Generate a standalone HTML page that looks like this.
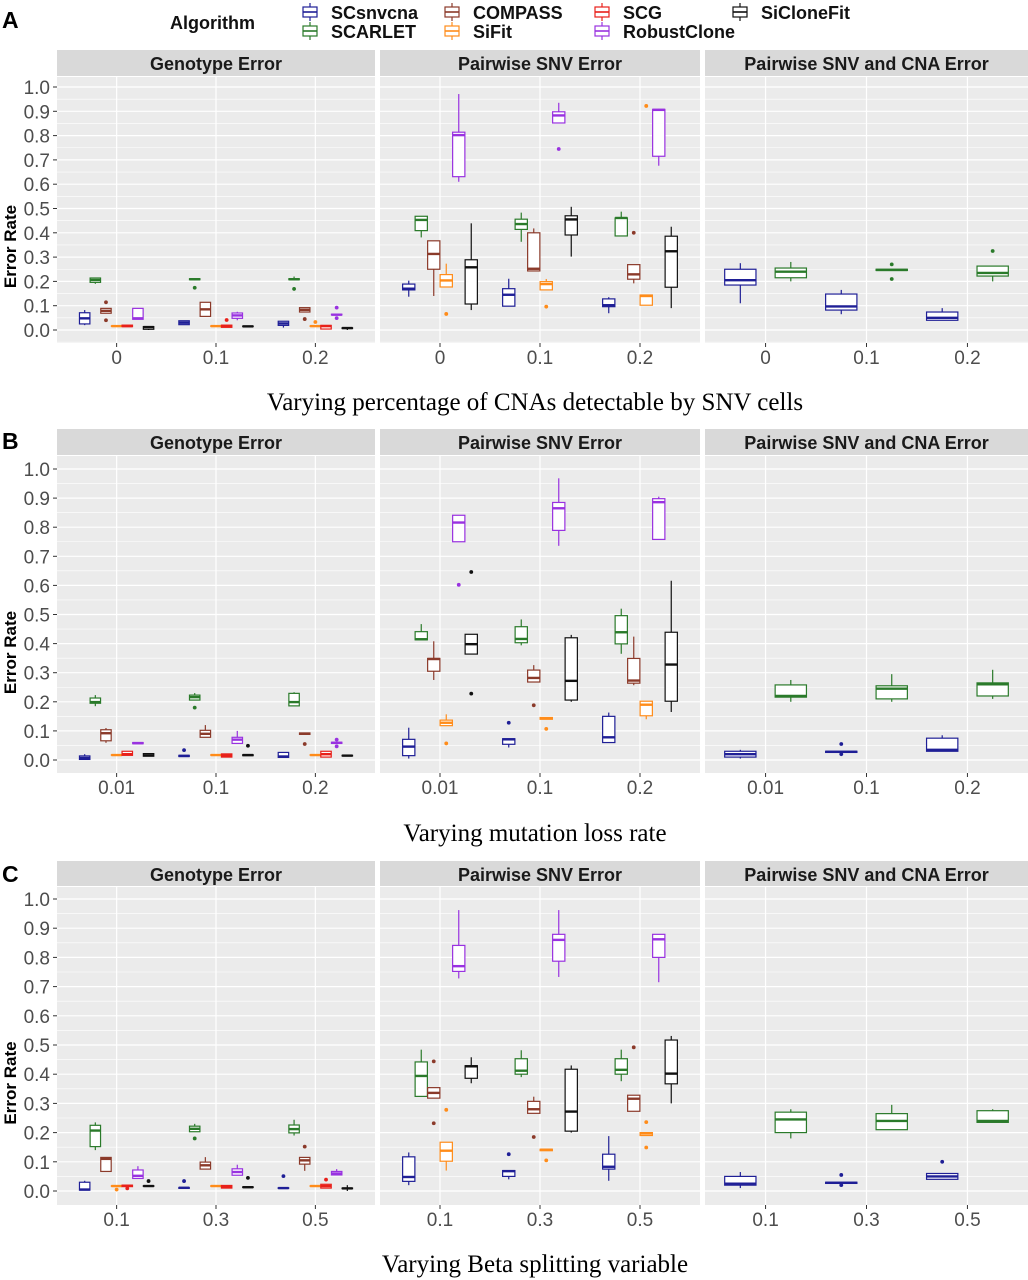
<!DOCTYPE html>
<html><head><meta charset="utf-8">
<style>
html,body{margin:0;padding:0;background:#fff;}
svg{display:block;font-family:"Liberation Sans",sans-serif;}
</style></head>
<body>
<svg id="chart" width="1028" height="1280" viewBox="0 0 1028 1280" xmlns="http://www.w3.org/2000/svg"></svg>
<script>
// ===== DATA =====
const algs = ["SCsnvcna","SCARLET","COMPASS","SiFit","SCG","RobustClone","SiCloneFit"];
const catsA = ["0","0.1","0.2"];
const catsB = ["0.01","0.1","0.2"];
const catsC = ["0.1","0.3","0.5"];
const yTicks = [0,0.1,0.2,0.3,0.4,0.5,0.6,0.7,0.8,0.9,1.0];
const yTickLabels = ["0.0","0.1","0.2","0.3","0.4","0.5","0.6","0.7","0.8","0.9","1.0"];
const facetTitles = ["Genotype Error","Pairwise SNV Error","Pairwise SNV and CNA Error"];
const facetAlgs0 = [0,1,2,3,4,5,6];
const facetAlgs1 = [0,1,2,3,5,6];
const facetAlgs2 = [0,1];
// box stats per algorithm (facet's algorithm order), per category: [lo,q1,med,q3,hi]
const A_geno = [
 [[0.02,0.025,0.048,0.071,0.082],[0.022,0.022,0.03,0.038,0.038],[0.01,0.019,0.027,0.036,0.036]],
 [[0.19,0.196,0.206,0.214,0.215],[0.205,0.207,0.209,0.211,0.213],[0.205,0.207,0.209,0.211,0.22]],
 [[0.069,0.069,0.079,0.089,0.089],[0.056,0.056,0.085,0.114,0.114],[0.074,0.074,0.083,0.092,0.092]],
 [[0.016,0.016,0.016,0.017,0.017],[0.016,0.016,0.016,0.017,0.017],[0.016,0.016,0.016,0.017,0.017]],
 [[0.014,0.014,0.016,0.02,0.02],[0.011,0.011,0.016,0.02,0.02],[0.004,0.004,0.016,0.019,0.019]],
 [[0.044,0.044,0.048,0.089,0.089],[0.04,0.048,0.06,0.07,0.075],[0.062,0.062,0.063,0.065,0.065]],
 [[0,0.003,0.012,0.014,0.014],[0.014,0.014,0.015,0.016,0.016],[0,0.006,0.008,0.009,0.009]]];
const A_geno_out = [[2,0,0.114],[2,0,0.04],[1,1,0.174],[4,1,0.041],[1,2,0.169],[2,2,0.045],[3,2,0.033],[5,2,0.092],[5,2,0.049]];
const A_snv = [
 [[0.137,0.165,0.17,0.189,0.203],[0.098,0.098,0.145,0.17,0.211],[0.069,0.096,0.102,0.128,0.135]],
 [[0.381,0.409,0.453,0.468,0.468],[0.363,0.414,0.436,0.456,0.483],[0.387,0.387,0.461,0.461,0.487]],
 [[0.14,0.25,0.313,0.367,0.367],[0.243,0.243,0.252,0.4,0.418],[0.192,0.209,0.229,0.269,0.269]],
 [[0.177,0.177,0.204,0.228,0.273],[0.165,0.165,0.189,0.199,0.21],[0.102,0.102,0.14,0.144,0.144]],
 [[0.61,0.631,0.802,0.814,0.971],[0.852,0.852,0.883,0.898,0.935],[0.676,0.715,0.906,0.908,0.91]],
 [[0.082,0.107,0.258,0.289,0.439],[0.302,0.391,0.455,0.47,0.507],[0.09,0.176,0.324,0.386,0.425]]];
const A_snv_out = [[3,0,0.066],[3,1,0.096],[5,1,0.745],[2,2,0.4],[3,2,0.922]];
const A_cna = [
 [[0.11,0.185,0.205,0.25,0.275],[0.065,0.082,0.097,0.148,0.165],[0.04,0.04,0.05,0.074,0.09]],
 [[0.2,0.215,0.24,0.255,0.28],[0.245,0.245,0.247,0.25,0.25],[0.2,0.222,0.235,0.263,0.263]]];
const A_cna_out = [[1,1,0.27],[1,1,0.21],[1,2,0.325]];
const B_geno = [
 [[0.002,0.002,0.007,0.014,0.02],[0.012,0.012,0.014,0.016,0.016],[0.009,0.009,0.012,0.026,0.026]],
 [[0.185,0.195,0.199,0.213,0.223],[0.206,0.206,0.216,0.223,0.23],[0.186,0.186,0.199,0.229,0.233]],
 [[0.059,0.066,0.092,0.104,0.11],[0.078,0.078,0.09,0.102,0.12],[0.088,0.088,0.09,0.093,0.093]],
 [[0.017,0.017,0.017,0.018,0.018],[0.017,0.017,0.017,0.018,0.018],[0.017,0.017,0.017,0.018,0.018]],
 [[0.016,0.016,0.02,0.03,0.03],[0.01,0.01,0.015,0.021,0.021],[0.01,0.01,0.02,0.03,0.03]],
 [[0.055,0.056,0.058,0.06,0.06],[0.057,0.057,0.07,0.078,0.1],[0.057,0.057,0.059,0.061,0.061]],
 [[0.013,0.013,0.016,0.022,0.022],[0.015,0.015,0.017,0.018,0.018],[0.014,0.014,0.015,0.016,0.016]]];
const B_geno_out = [[0,1,0.034],[1,1,0.18],[6,1,0.049],[2,2,0.055],[5,2,0.07],[5,2,0.047]];
const B_snv = [
 [[0.005,0.015,0.046,0.071,0.111],[0.043,0.054,0.071,0.073,0.073],[0.06,0.06,0.078,0.15,0.163]],
 [[0.413,0.413,0.415,0.441,0.467],[0.394,0.403,0.416,0.458,0.483],[0.365,0.399,0.439,0.496,0.52]],
 [[0.275,0.305,0.347,0.349,0.408],[0.268,0.268,0.282,0.309,0.326],[0.257,0.264,0.273,0.349,0.424]],
 [[0.118,0.118,0.128,0.137,0.157],[0.14,0.14,0.143,0.146,0.146],[0.14,0.152,0.19,0.202,0.202]],
 [[0.75,0.75,0.816,0.841,0.841],[0.736,0.789,0.865,0.885,0.968],[0.758,0.758,0.886,0.898,0.905]],
 [[0.364,0.364,0.398,0.432,0.432],[0.2,0.206,0.272,0.42,0.43],[0.165,0.202,0.328,0.439,0.616]]];
const B_snv_out = [[3,0,0.057],[5,0,0.602],[6,0,0.646],[6,0,0.228],[0,1,0.128],[2,1,0.188],[3,1,0.107]];
const B_cna = [
 [[0.005,0.01,0.02,0.03,0.035],[0.026,0.026,0.028,0.03,0.03],[0.03,0.03,0.035,0.075,0.085]],
 [[0.2,0.216,0.22,0.258,0.275],[0.2,0.21,0.245,0.255,0.295],[0.21,0.22,0.26,0.265,0.31]]];
const B_cna_out = [[0,1,0.055],[0,1,0.02]];
const C_geno = [
 [[0.003,0.003,0.005,0.03,0.035],[0.009,0.009,0.011,0.012,0.012],[0.009,0.009,0.01,0.011,0.011]],
 [[0.14,0.152,0.207,0.225,0.235],[0.203,0.203,0.213,0.222,0.23],[0.19,0.199,0.212,0.226,0.244]],
 [[0.067,0.067,0.11,0.115,0.115],[0.075,0.075,0.088,0.099,0.116],[0.069,0.092,0.105,0.115,0.115]],
 [[0.016,0.016,0.017,0.018,0.018],[0.016,0.016,0.017,0.018,0.018],[0.016,0.016,0.017,0.018,0.018]],
 [[0.015,0.015,0.018,0.02,0.02],[0.01,0.01,0.015,0.019,0.019],[0.01,0.01,0.017,0.023,0.023]],
 [[0.043,0.043,0.052,0.072,0.085],[0.054,0.054,0.065,0.076,0.09],[0.055,0.055,0.06,0.067,0.075]],
 [[0.016,0.016,0.017,0.018,0.018],[0.012,0.012,0.013,0.014,0.014],[0,0.008,0.009,0.01,0.02]]];
const C_geno_out = [[3,0,0.005],[4,0,0.009],[6,0,0.034],[0,1,0.034],[1,1,0.18],[6,1,0.045],[0,2,0.051],[2,2,0.152],[4,2,0.039]];
const C_snv = [
 [[0.02,0.033,0.048,0.117,0.132],[0.04,0.05,0.068,0.07,0.07],[0.035,0.075,0.083,0.126,0.188]],
 [[0.324,0.324,0.394,0.442,0.484],[0.39,0.4,0.412,0.453,0.482],[0.376,0.4,0.415,0.453,0.484]],
 [[0.318,0.318,0.336,0.354,0.354],[0.266,0.266,0.28,0.307,0.323],[0.273,0.273,0.316,0.328,0.328]],
 [[0.07,0.102,0.138,0.167,0.167],[0.138,0.138,0.141,0.143,0.143],[0.19,0.19,0.197,0.2,0.2]],
 [[0.728,0.752,0.77,0.841,0.962],[0.733,0.787,0.86,0.879,0.962],[0.715,0.8,0.862,0.879,0.879]],
 [[0.369,0.386,0.427,0.429,0.458],[0.2,0.205,0.272,0.417,0.43],[0.3,0.367,0.402,0.517,0.531]]];
const C_snv_out = [[2,0,0.444],[2,0,0.232],[3,0,0.278],[0,1,0.126],[2,1,0.185],[3,1,0.105],[2,2,0.492],[3,2,0.236],[3,2,0.149]];
const C_cna = [
 [[0.01,0.02,0.025,0.05,0.065],[0.026,0.026,0.028,0.03,0.03],[0.04,0.04,0.05,0.06,0.06]],
 [[0.18,0.2,0.245,0.27,0.28],[0.21,0.21,0.24,0.265,0.295],[0.235,0.235,0.24,0.275,0.28]]];
const C_cna_out = [[0,1,0.055],[0,1,0.02],[0,2,0.1]];

// ===== STYLE / LAYOUT =====
const colors = ["#1f1f96","#2a7a2a","#8b3a2a","#ff8c1a","#e8201a","#9932e0","#111111"];
const panelX = [[57,375],[380,700],[705,1028]];
const rows = [
 {label:"A", labelY:28, stripTop:50, plotTop:77, plotBot:343, y0:330, y1:87, xlabY:364, title:"Varying percentage of CNAs detectable by SNV cells", titleY:410, cats:catsA, data:[[A_geno,A_geno_out],[A_snv,A_snv_out],[A_cna,A_cna_out]]},
 {label:"B", labelY:449, stripTop:429, plotTop:456, plotBot:773, y0:760, y1:469, xlabY:794, title:"Varying mutation loss rate", titleY:841, cats:catsB, data:[[B_geno,B_geno_out],[B_snv,B_snv_out],[B_cna,B_cna_out]]},
 {label:"C", labelY:882, stripTop:861, plotTop:887, plotBot:1205, y0:1191, y1:899, xlabY:1226, title:"Varying Beta splitting variable", titleY:1272, cats:catsC, data:[[C_geno,C_geno_out],[C_snv,C_snv_out],[C_cna,C_cna_out]]}
];
const facetAlgs = [facetAlgs0,facetAlgs1,facetAlgs2];
const NS = "http://www.w3.org/2000/svg";
const svg = document.getElementById("chart");
function mk(tag, attrs, parent, text){
  const e = document.createElementNS(NS, tag);
  for (const k in attrs) e.setAttribute(k, attrs[k]);
  if (text !== undefined) e.textContent = text;
  (parent||svg).appendChild(e);
  return e;
}

// legend
const leg = mk("g",{});


const lt = mk("text",{x:170,y:29,"font-size":18,"font-weight":"bold",fill:"#111"},leg,"Algorithm");


const legPos = [[301,3],[301,22],[443,3],[443,22],[593,3],[593,22],[731,3]];
algs.forEach((a,i)=>{
  const g = mk("g",{},leg);
  
  
  const [lx,ly] = legPos[i];
  mk("line",{x1:lx+9,x2:lx+9,y1:ly,y2:ly+18,stroke:colors[i],"stroke-width":1.2},g);
  mk("rect",{x:lx+2,y:ly+4,width:14,height:10,fill:"#fff",stroke:colors[i],"stroke-width":1.2},g);
  mk("line",{x1:lx+2,x2:lx+16,y1:ly+9,y2:ly+9,stroke:colors[i],"stroke-width":1.6},g);
  mk("text",{x:lx+30,y:ly+16,"font-size":18,"font-weight":"bold",fill:"#111"},g,a);
});

rows.forEach((r)=>{
  const yS = v => r.y0 - v*(r.y0 - r.y1);
  const rg = mk("g",{});
  
  
  const pl = mk("text",{x:2,y:r.labelY,"font-size":23,"font-weight":"bold",fill:"#000"},rg,r.label);
  
  
  const yt = mk("text",{x:0,y:0,"font-size":17,"font-weight":"bold",fill:"#000","text-anchor":"middle",transform:`translate(16,${(r.y0+r.y1)/2+38}) rotate(-90)`},rg,"Error Rate");
  
  
  yTicks.forEach((t,k)=>{
    const y = yS(t);
    mk("line",{x1:53,x2:57,y1:y,y2:y,stroke:"#333","stroke-width":1},rg);
    const tl = mk("text",{x:50,y:y+7,"font-size":19,fill:"#4d4d4d","text-anchor":"end"},rg,yTickLabels[k]);
    
    
  });
  const xt = mk("text",{x:535,y:r.titleY,"font-size":25,fill:"#000","text-anchor":"middle","font-family":"Liberation Serif, serif"},rg,r.title);
  
  

  panelX.forEach(([px0,px1],f)=>{
    const fg = mk("g",{},rg);
    
    
    const st = mk("rect",{x:px0,y:r.stripTop,width:px1-px0,height:r.plotTop-r.stripTop-1,fill:"#d9d9d9"},fg);
    
    
    mk("text",{x:(px0+px1)/2,y:r.stripTop+20,"font-size":18,"font-weight":"bold",fill:"#1a1a1a","text-anchor":"middle"},fg,facetTitles[f]);
    mk("rect",{x:px0,y:r.plotTop,width:px1-px0,height:r.plotBot-r.plotTop,fill:"#ebebeb"},fg);
    yTicks.forEach(t=>{
      const ym = yS(t+0.05);
      if (ym > r.plotTop) mk("line",{x1:px0,x2:px1,y1:ym,y2:ym,stroke:"#fff","stroke-width":0.6},fg);
    });
    const ymn = yS(-0.05);
    if (ymn < r.plotBot) mk("line",{x1:px0,x2:px1,y1:ymn,y2:ymn,stroke:"#fff","stroke-width":0.6},fg);
    yTicks.forEach(t=>{ const y=yS(t); mk("line",{x1:px0,x2:px1,y1:y,y2:y,stroke:"#fff","stroke-width":1.2},fg); });
    const unit = (px1-px0)/3.2;
    const xS = c => px0 + unit*(0.6 + c);
    r.cats.forEach((c,ci)=>{
      const x = xS(ci);
      mk("line",{x1:x,x2:x,y1:r.plotTop,y2:r.plotBot,stroke:"#fff","stroke-width":1.2},fg);
      mk("line",{x1:x,x2:x,y1:r.plotBot,y2:r.plotBot+4,stroke:"#333","stroke-width":1},fg);
      const xl = mk("text",{x:x,y:r.xlabY,"font-size":19,fill:"#4d4d4d","text-anchor":"middle"},fg,c);
      
      
    });
    const fa = facetAlgs[f];
    const n = fa.length;
    const [boxes, outs] = r.data[f];
    const dodgeW = n===2 ? 0.5*unit : 0.75*unit;
    const slot = n===2 ? 0.5*unit : dodgeW/n;
    const bw = n===2 ? 0.31*unit : slot*0.98;
    const off = k => n===2 ? (k-0.5)*slot : (k-(n-1)/2)*slot;
    fa.forEach((ai,k)=>{
      boxes[k].forEach((s,ci)=>{
        const cx = xS(ci) + off(k);
        const g = mk("g",{},fg);
        
        
        const col = colors[ai];
        mk("line",{x1:cx,x2:cx,y1:yS(s[4]),y2:yS(s[3]),stroke:col,"stroke-width":1.2},g);
        mk("line",{x1:cx,x2:cx,y1:yS(s[1]),y2:yS(s[0]),stroke:col,"stroke-width":1.2},g);
        const yt3 = yS(s[3]), yt1 = yS(s[1]);
        mk("rect",{x:cx-bw/2,y:yt3,width:bw,height:Math.max(yt1-yt3,0.5),fill:"#fff",stroke:col,"stroke-width":1.2},g);
        mk("line",{x1:cx-bw/2,x2:cx+bw/2,y1:yS(s[2]),y2:yS(s[2]),stroke:col,"stroke-width":2.4},g);
      });
    });
    outs.forEach(o=>{
      const k = fa.indexOf(o[0]);
      const cx = xS(o[1]) + off(k);
      const c = mk("circle",{cx:cx,cy:yS(o[2]),r:1.9,fill:colors[o[0]]},fg);
      
      
    });
  });
});
</script>
</body></html>
